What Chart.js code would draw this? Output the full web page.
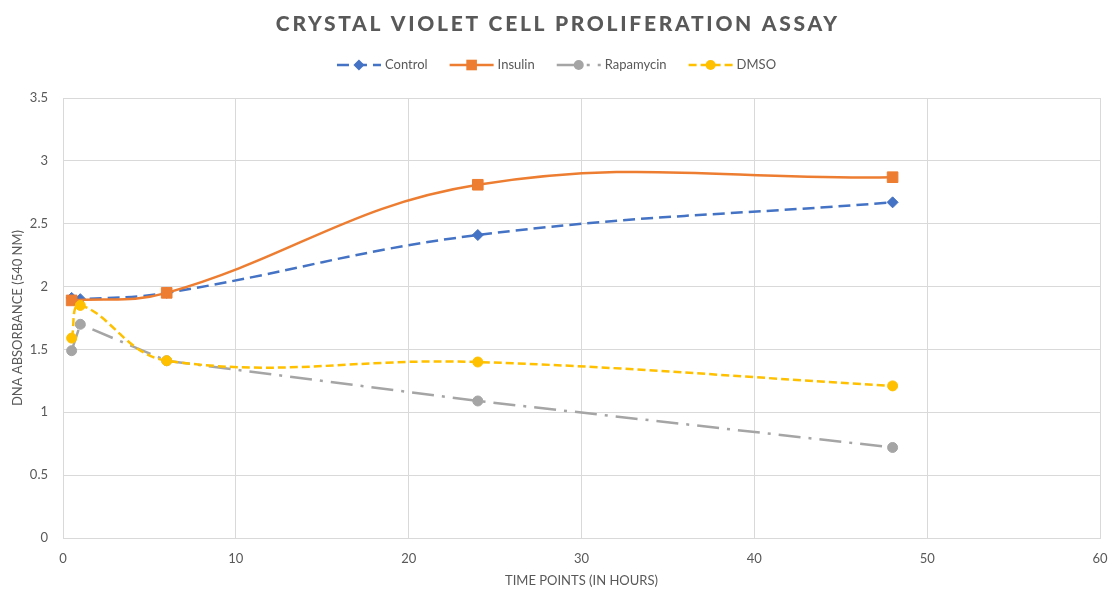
<!DOCTYPE html>
<html>
<head>
<meta charset="utf-8">
<title>Crystal Violet Cell Proliferation Assay</title>
<script src="https://cdn.jsdelivr.net/npm/chart.js@4.4.1/dist/chart.umd.min.js"></script>
<style>
    html, body { margin: 0; padding: 0; background: #ffffff; }
    #wrap { width: 1113px; height: 589px; position: relative; }
</style>
</head>
<body>
<div id="wrap"><canvas id="assayChart"></canvas></div>
<script>
// Sampling times (hours) and absorbance readings per treatment
const timePoints = [0.5, 1, 6, 24, 48];
const controlValues = [1.91, 1.90, 1.95, 2.41, 2.67];
const insulinValues = [1.89, null, 1.95, 2.81, 2.87];
const rapamycinValues = [1.49, 1.70, 1.41, 1.09, 0.72];
const dmsoValues = [1.59, 1.85, 1.41, 1.40, 1.21];

const seriesNames = ['Control', 'Insulin', 'Rapamycin', 'DMSO'];
const chartTitle = 'CRYSTAL VIOLET CELL PROLIFERATION ASSAY';
const xAxisTitle = 'TIME POINTS (IN HOURS)';
const yAxisTitle = 'DNA ABSORBANCE (540 NM)';

const textColor = '#595959';
const gridColor = '#d9d9d9';

function toPoints(values) {
    return timePoints.map((t, i) => ({ x: t, y: values[i] }));
}

function makeSeries(label, values, color, dash, marker, radius, tension, order) {
    return {
        label: label,
        data: toPoints(values),
        borderColor: color,
        backgroundColor: color,
        pointBackgroundColor: color,
        pointBorderColor: color,
        borderWidth: 2.5,
        borderDash: dash,
        pointStyle: marker,
        pointRadius: radius,
        pointBorderWidth: 1,
        tension: tension,
        spanGaps: true,
        order: order
    };
}

const datasets = [
    makeSeries(seriesNames[0], controlValues, '#4472C4', [12, 6], 'rectRot', 5.5, 0.4, 4),
    makeSeries(seriesNames[1], insulinValues, '#ED7D31', [], 'rect', 7.5, 0.4, 3),
    makeSeries(seriesNames[2], rapamycinValues, '#A5A5A5', [22, 8, 3, 8], 'circle', 5, 0, 2),
    makeSeries(seriesNames[3], dmsoValues, '#FFC000', [8, 4], 'circle', 5, 0.4, 1)
];

// Small marker painter used by the legend row
function drawMarker(ctx, style, x, y, r, color) {
    ctx.save();
    ctx.fillStyle = color;
    ctx.beginPath();
    if (style === 'rectRot') {
        ctx.moveTo(x, y - r);
        ctx.lineTo(x + r, y);
        ctx.lineTo(x, y + r);
        ctx.lineTo(x - r, y);
        ctx.closePath();
    } else if (style === 'rect') {
        const s = r * Math.SQRT1_2;
        ctx.rect(x - s, y - s, s * 2, s * 2);
    } else {
        ctx.arc(x, y, r, 0, Math.PI * 2);
    }
    ctx.fill();
    ctx.restore();
}

// Title and legend are painted above the plot area
const headerPlugin = {
    id: 'header',
    afterDraw(chart) {
        const ctx = chart.ctx;
        ctx.save();
        ctx.fillStyle = textColor;
        ctx.font = '900 21px Lato';
        ctx.letterSpacing = '2.7px';
        ctx.textAlign = 'center';
        ctx.textBaseline = 'middle';
        ctx.fillText(chartTitle, chart.width / 2 + 1.3, 24);
        ctx.letterSpacing = '0px';

        ctx.font = '13px Lato';
        ctx.textAlign = 'left';
        const segment = 44, gap = 4, spacing = 22, legendY = 65;
        const widths = chart.data.datasets.map(ds => ctx.measureText(ds.label).width);
        let total = 0;
        widths.forEach(w => { total += segment + gap + w; });
        total += spacing * (widths.length - 1);
        let x = (chart.width - total) / 2;
        chart.data.datasets.forEach((ds, i) => {
            ctx.save();
            ctx.strokeStyle = ds.borderColor;
            ctx.lineWidth = ds.borderWidth;
            ctx.setLineDash(ds.borderDash);
            ctx.beginPath();
            ctx.moveTo(x, legendY);
            ctx.lineTo(x + segment, legendY);
            ctx.stroke();
            ctx.restore();
            drawMarker(ctx, ds.pointStyle, x + segment / 2, legendY, ds.pointRadius, ds.borderColor);
            ctx.fillStyle = textColor;
            ctx.fillText(ds.label, x + segment + gap, legendY);
            x += segment + gap + widths[i] + spacing;
        });
        ctx.restore();
    }
};

const ctx = document.getElementById('assayChart').getContext('2d');
new Chart(ctx, {
    type: 'line',
    data: { datasets: datasets },
    options: {
        responsive: true,
        maintainAspectRatio: false,
        animation: false,
        devicePixelRatio: 1,
        layout: { padding: { top: 98, right: 0, left: 0, bottom: 0 } },
        plugins: {
            legend: { display: false },
            title: { display: false },
            tooltip: { enabled: false }
        },
        scales: {
            x: {
                type: 'linear',
                min: 0,
                max: 60,
                ticks: { stepSize: 10, color: textColor, font: { family: 'Lato', size: 13 }, padding: 13 },
                grid: { color: gridColor, lineWidth: 1, drawTicks: false },
                border: { color: gridColor },
                title: {
                    display: true,
                    text: xAxisTitle,
                    color: textColor,
                    font: { family: 'Lato', size: 13 },
                    padding: { top: 4, bottom: 0 }
                },
                afterFit(scale) {
                    scale.height = 51;
                    scale.paddingLeft = 0;
                    scale.paddingRight = 13;
                }
            },
            y: {
                min: 0,
                max: 3.5,
                ticks: {
                    stepSize: 0.5,
                    color: textColor,
                    font: { family: 'Lato', size: 13 },
                    padding: 15,
                    callback: value => String(value)
                },
                grid: { color: gridColor, lineWidth: 1, drawTicks: false },
                border: { color: gridColor },
                title: {
                    display: true,
                    text: yAxisTitle,
                    color: textColor,
                    font: { family: 'Lato', size: 13 },
                    padding: { top: 10, bottom: 0 }
                },
                afterFit(scale) { scale.width = 63; }
            }
        }
    },
    plugins: [headerPlugin]
});
</script>
</body>
</html>
